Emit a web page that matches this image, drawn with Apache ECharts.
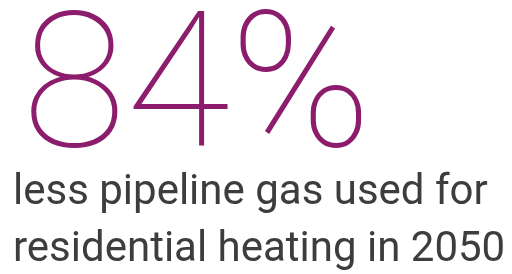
<!DOCTYPE html>
<html>
<head>
<meta charset="utf-8">
<script src="https://cdn.jsdelivr.net/npm/echarts@6/dist/echarts.min.js"></script>
<style>
  html, body { margin: 0; padding: 0; background: #fff; }
  #main { width: 512px; height: 274px; }
</style>
</head>
<body>
<div id="main"></div>
<script>
// headline figure and caption
let headline = ["84%"]
let captionLines = ["less pipeline gas used for", "residential heating in 2050"]

var myChart = echarts.init(document.getElementById('main'));

let caption = captionLines.map((t, i) => ({
  type: 'text',
  left: 13,
  top: 172 + i * 57,
  style: {
    text: t,
    fontFamily: 'Roboto',
    fontSize: 42,
    fill: '#3d3d3d'
  }
}))

var option = {
  backgroundColor: '#ffffff',
  graphic: [
    {
      type: 'text',
      left: 22,
      top: 3,
      style: {
        text: headline[0],
        fontFamily: 'Roboto',
        fontWeight: 100,
        fontSize: 190,
        fill: '#8c1d6c'
      }
    }
  ].concat(caption)
};

myChart.setOption(option);
</script>
</body>
</html>
